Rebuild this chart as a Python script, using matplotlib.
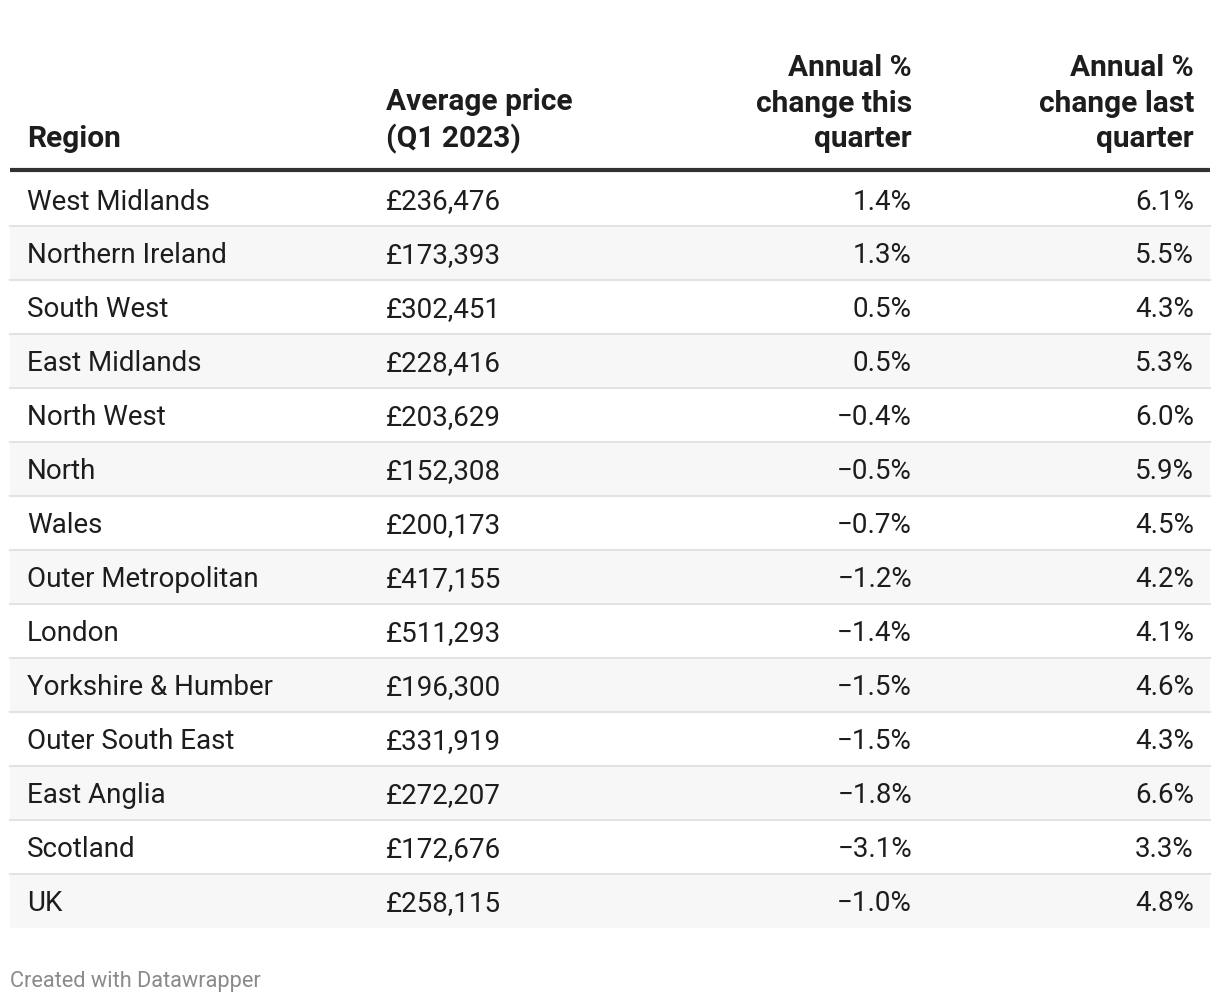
import matplotlib.pyplot as plt
from matplotlib.patches import Rectangle

plt.rcParams['font.family'] = ['Roboto', 'DejaVu Sans']

# ============================================================
# DATA
# ============================================================
headers = ["Region", "Average price\n(Q1 2023)",
           "Annual %\nchange this\nquarter", "Annual %\nchange last\nquarter"]
regions = ["West Midlands", "Northern Ireland", "South West", "East Midlands",
           "North West", "North", "Wales", "Outer Metropolitan", "London",
           "Yorkshire & Humber", "Outer South East", "East Anglia",
           "Scotland", "UK"]
prices = [236476, 173393, 302451, 228416, 203629, 152308, 200173,
          417155, 511293, 196300, 331919, 272207, 172676, 258115]
change_this = [1.4, 1.3, 0.5, 0.5, -0.4, -0.5, -0.7,
               -1.2, -1.4, -1.5, -1.5, -1.8, -3.1, -1.0]
change_last = [6.1, 5.5, 4.3, 5.3, 6.0, 5.9, 4.5,
               4.2, 4.1, 4.6, 4.3, 6.6, 3.3, 4.8]


def fmt_pct(v):
    s = f"{abs(v):.1f}%"
    return ("\u2212" + s) if v < 0 else s


# ============================================================
# LAYOUT (pixel coordinates)
# ============================================================
W, H = 1220, 1004
fig = plt.figure(figsize=(W / 100, H / 100), dpi=100)
ax = fig.add_axes([0, 0, 1, 1])
ax.set_xlim(0, W)
ax.set_ylim(H, 0)
ax.axis("off")

left, right = 10, 1210
top_row = 173
row_h = 54
col_x = [27, 386, 912, 1194]
col_ha = ["left", "left", "right", "right"]
txt_color = "#1d1d1d"

# header
for x, ha, label in zip(col_x, col_ha, headers):
    ax.text(x, 147, label, ha=ha, va="baseline", fontsize=21.5,
            fontweight="bold", color=txt_color, linespacing=1.34)
ax.plot([left, right], [top_row - 2, top_row - 2], color="#333333",
        lw=3, solid_capstyle="butt")

# rows
for i, reg in enumerate(regions):
    y0 = top_row + i * row_h
    if i % 2 == 1:
        ax.add_patch(Rectangle((left, y0), right - left, row_h,
                               facecolor="#f7f7f7", edgecolor="none"))
    if i > 0:
        ax.plot([left, right], [y0, y0], color="#e3e3e3", lw=1.5)
    yb = y0 + row_h / 2 + 9.5
    vals = [reg, f"\u00a3{prices[i]:,}", fmt_pct(change_this[i]),
            fmt_pct(change_last[i])]
    for x, ha, v in zip(col_x, col_ha, vals):
        ax.text(x, yb, v, ha=ha, va="baseline", fontsize=20, color=txt_color)

ax.text(10, 987, "Created with Datawrapper", ha="left", va="baseline",
        fontsize=15.7, color="#8a8a8a")

plt.savefig("out.png", dpi=100, facecolor="white")
